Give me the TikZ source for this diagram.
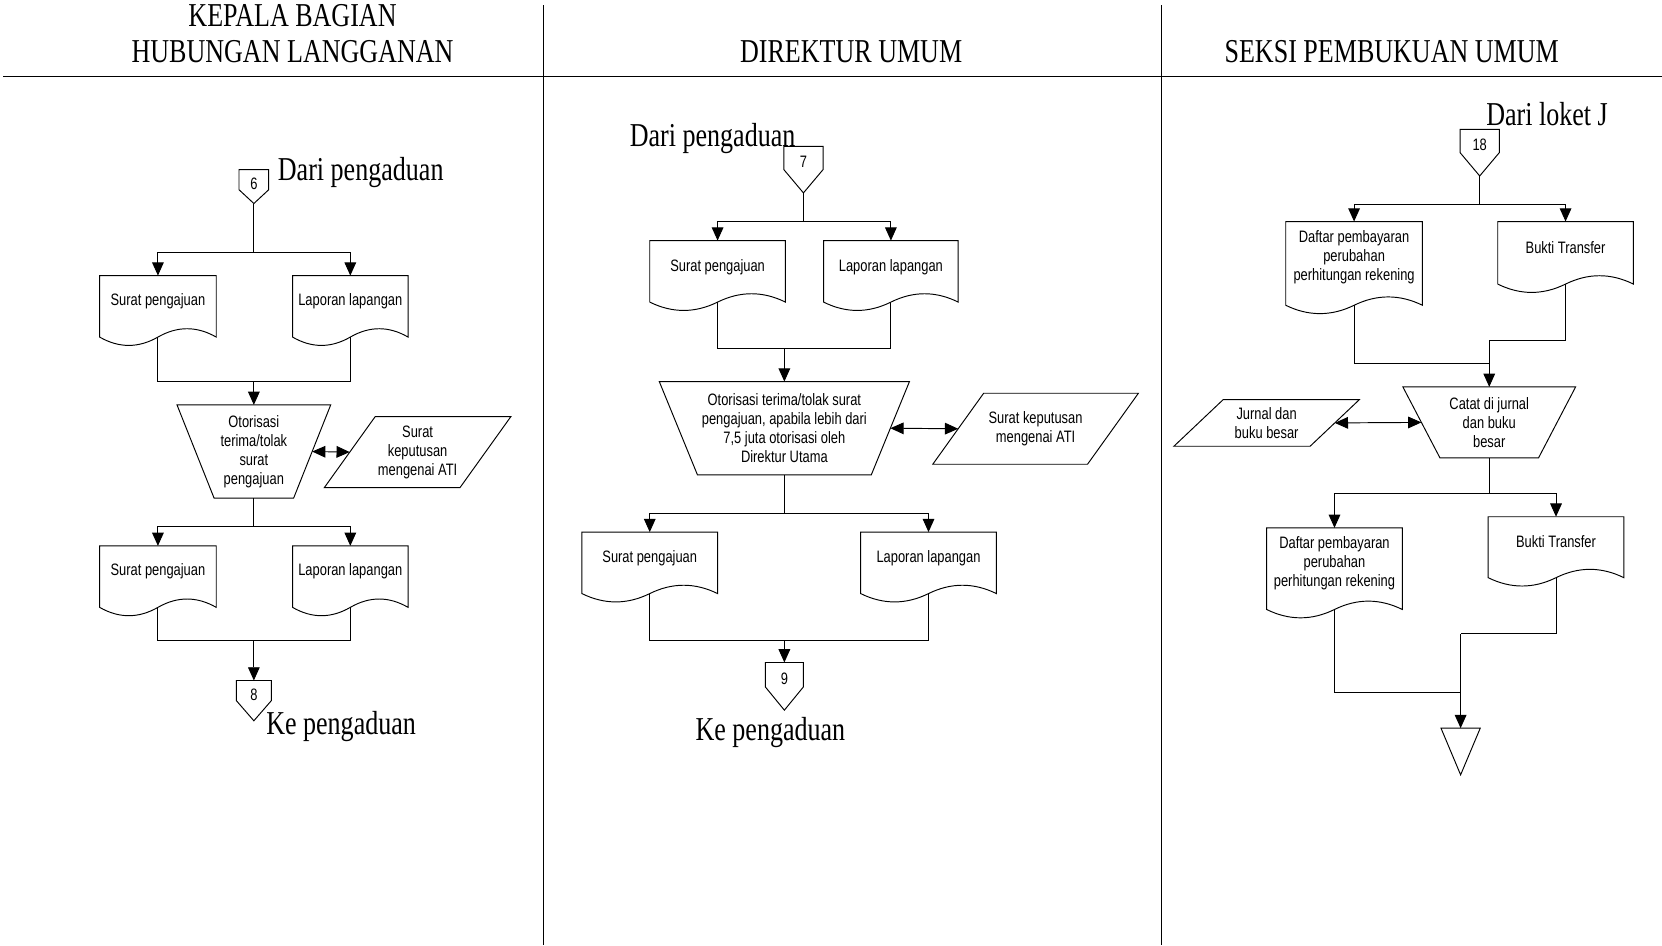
\documentclass[tikz,border=0pt]{standalone}
\usepackage{fontspec}
\usetikzlibrary{arrows.meta,calc}
\newfontfamily\serifnarrow[FakeStretch=0.78]{Liberation Serif}
\newfontfamily\sansnarrow[FakeStretch=0.78]{Liberation Sans}

\tikzset{
  ln/.style={line width=0.9pt, line join=miter},
  tip/.style={Triangle[length=12.5pt,width=11pt]},
  arr/.style={ln, -{Triangle[length=12.5pt,width=11pt]}},
  darr/.style={ln, {Triangle[length=12.5pt,width=11pt]}-{Triangle[length=12.5pt,width=11pt]}},
  shapebox/.style={draw=none, inner sep=0pt, outer sep=0pt},
  txt/.style={font=\sansnarrow\fontsize{15.6}{18}\selectfont, align=center, inner sep=0pt},
  headtext/.style={font=\serifnarrow\fontsize{31.5}{34}\selectfont, align=center, inner sep=0pt},
  flowlabel/.style={font=\serifnarrow\fontsize{31.5}{34}\selectfont, inner sep=0pt, anchor=west},
  lane/.style={line width=1pt},
}

\newcommand{\wavedepth}{10.5}

% document symbol: name, centre x, top y, width, side height, text y, text
\newcommand{\DocShape}[7]{%
  \node[shapebox, minimum width=#4, minimum height=#5, anchor=north] (#1) at (#2,#3) {};
  \draw[ln] (#1.south west) -- (#1.north west) -- (#1.north east) -- (#1.south east)
    .. controls +({-#4/6},-\wavedepth) and +({#4/6},-\wavedepth) .. (#1.south)
    .. controls +({-#4/6},\wavedepth) and +({#4/6},\wavedepth) .. (#1.south west) -- cycle;
  \node[txt] (#1-t) at (#2,#6) {#7};
}

% manual operation: name, centre x, top y, top width, bottom width, height, text
\newcommand{\ManOp}[7]{%
  \node[shapebox, txt, minimum width=#4, minimum height=#6, anchor=north] (#1) at (#2,#3) {#7};
  \draw[ln] (#1.north west) -- (#1.north east) -- ([xshift={-(#4-#5)/2}]#1.south east)
    -- ([xshift={(#4-#5)/2}]#1.south west) -- cycle;
  \coordinate (#1-r) at ($(#1.north east)!0.5!([xshift={-(#4-#5)/2}]#1.south east)$);
  \coordinate (#1-l) at ($(#1.north west)!0.5!([xshift={(#4-#5)/2}]#1.south west)$);
}

% input/output: name, centre x, centre y, edge width, height, slant, text
\newcommand{\InOut}[7]{%
  \node[shapebox, txt, minimum width=#4, minimum height=#5] (#1) at (#2,#3) {#7};
  \draw[ln] ([xshift={#6/2}]#1.north west) -- ([xshift={#6/2}]#1.north east)
    -- ([xshift={-#6/2}]#1.south east) -- ([xshift={-#6/2}]#1.south west) -- cycle;
}

% off-page connector: name, centre x, top y, width, box height, point depth, number
\newcommand{\OffPage}[7]{%
  \node[shapebox, minimum width=#4, minimum height=#5, anchor=north] (#1) at (#2,#3) {};
  \node[txt] (#1-n) at ([yshift=-4]#1.center) {#7};
  \coordinate (#1-tip) at ([yshift=-#6]#1.south);
  \draw[ln] (#1.south west) -- (#1.north west) -- (#1.north east) -- (#1.south east)
    -- (#1-tip) -- cycle;
}

\begin{document}
\begin{tikzpicture}[x=1pt,y=-1pt]
\useasboundingbox (0,0) rectangle (1568,892);

% lanes
\coordinate (hl) at (3,72);
\coordinate (hr) at (1568,72);
\coordinate (v1t) at (513,5);
\coordinate (v1b) at (513,892);
\coordinate (v2t) at (1096,5);
\coordinate (v2b) at (1096,892);
\draw[lane] (hl) -- (hr);
\draw[lane] (v1t) -- (v1b);
\draw[lane] (v2t) -- (v2b);

\node[headtext] (h1) at (276,32) {KEPALA BAGIAN\\HUBUNGAN LANGGANAN};
\node[headtext] (h2) at (803,49) {DIREKTUR UMUM};
\node[headtext] (h3) at (1313,49) {SEKSI PEMBUKUAN UMUM};

% ---- Kepala Bagian Hubungan Langganan ----
\OffPage{c6}{239.5}{160}{28}{19}{13}{6}
\node[flowlabel] (l6) at (262,163) {Dari pengaduan};
\coordinate (j1) at (239.5,238);
\DocShape{d1}{149}{260}{110}{58}{284}{Surat pengajuan}
\DocShape{d2}{330.5}{260}{109}{58}{284}{Laporan lapangan}
\coordinate (m1) at (239.5,360);
\ManOp{t1}{239.5}{382}{145}{75}{88}{Otorisasi\\terima/tolak\\surat\\pengajuan}
\InOut{p1}{394}{426.5}{128}{67}{48}{Surat\\keputusan\\mengenai ATI}
\coordinate (j2) at (239.5,497);
\DocShape{d3}{149}{515}{110}{58}{539}{Surat pengajuan}
\DocShape{d4}{330.5}{515}{109}{58}{539}{Laporan lapangan}
\coordinate (m2) at (239.5,604);
\OffPage{c8}{239.5}{642}{33}{19}{19}{8}
\node[flowlabel] (l8) at (251,685) {Ke pengaduan};

\draw[ln] (c6-tip) -- (j1);
\draw[arr] (j1) -| (d1.north);
\draw[arr] (j1) -| (d2.north);
\draw[ln] (d1.south) |- (m1);
\draw[ln] (d2.south) |- (m1);
\draw[arr] (m1) -- (t1.north);
\draw[darr] (t1-r) -- (p1.west);
\draw[ln] (t1.south) -- (j2);
\draw[arr] (j2) -| (d3.north);
\draw[arr] (j2) -| (d4.north);
\draw[ln] (d3.south) |- (m2);
\draw[ln] (d4.south) |- (m2);
\draw[arr] (m2) -- (c8.north);

% ---- Direktur Umum ----
\node[flowlabel] (l7) at (594,131) {Dari pengaduan};
\OffPage{c7}{758}{138}{37}{22}{22}{7}
\coordinate (j3) at (758,209);
\DocShape{d5}{677}{227}{128}{58}{252}{Surat pengajuan}
\DocShape{d6}{840.5}{227}{127}{58}{252}{Laporan lapangan}
\coordinate (m3) at (740,329);
\ManOp{t2}{740}{360}{236}{164}{88}{Otorisasi terima/tolak surat\\pengajuan, apabila lebih dari\\7,5 juta otorisasi oleh\\Direktur Utama}
\InOut{p2}{977}{404.5}{146}{67}{48}{Surat keputusan\\mengenai ATI}
\coordinate (j4) at (740,484);
\DocShape{d7}{613}{502}{128}{58}{527}{Surat pengajuan}
\DocShape{d8}{876}{502}{128}{58}{527}{Laporan lapangan}
\coordinate (m4) at (740,604);
\OffPage{c9}{740}{625}{36}{23}{22}{9}
\node[flowlabel] (l9) at (656,691) {Ke pengaduan};

\draw[ln] (c7-tip) -- (j3);
\draw[arr] (j3) -| (d5.north);
\draw[arr] (j3) -| (d6.north);
\draw[ln] (d5.south) |- (m3);
\draw[ln] (d6.south) |- (m3);
\draw[arr] (m3) -- (t2.north);
\draw[darr] (t2-r) -- (p2.west);
\draw[ln] (t2.south) -- (j4);
\draw[arr] (j4) -| (d7.north);
\draw[arr] (j4) -| (d8.north);
\draw[ln] (d7.south) |- (m4);
\draw[ln] (d8.south) |- (m4);
\draw[arr] (m4) -- (c9.north);

% ---- Seksi Pembukuan Umum ----
\node[flowlabel] (lJ) at (1402,108) {Dari loket J};
\OffPage{c18}{1396}{122}{37}{22}{22}{18}
\coordinate (j5) at (1396,193);
\DocShape{d9}{1277.5}{209}{129}{79}{243}{Daftar pembayaran\\perubahan\\perhitungan rekening}
\DocShape{d10}{1477}{209}{128}{59}{234}{Bukti Transfer}
\coordinate (m5) at (1405,343);
\coordinate (b5) at (1405,321);
\ManOp{t3}{1405}{365}{163}{93}{67}{Catat di jurnal\\dan buku\\besar}
\InOut{p3}{1195}{399}{128.5}{44}{46.5}{Jurnal dan\\buku besar}
\coordinate (j6) at (1405,466);
\DocShape{d11}{1259}{498}{128}{77}{531}{Daftar pembayaran\\perubahan\\perhitungan rekening}
\DocShape{d12}{1468}{487.5}{128}{57.5}{511}{Bukti Transfer}
\coordinate (b6) at (1378,598);
\coordinate (m6) at (1378,653);
\node[shapebox, minimum width=37, minimum height=44, anchor=north] (sto) at (1378,687) {};
\draw[ln] (sto.north west) -- (sto.north east) -- (sto.south) -- cycle;

\draw[ln] (c18-tip) -- (j5);
\draw[arr] (j5) -| (d9.north);
\draw[arr] (j5) -| (d10.north);
\draw[ln] (d9.south) |- (m5);
\draw[ln] (d10.south) |- (b5);
\draw[arr] (b5) -- (t3.north);
\draw[darr] (p3.east) -- (t3-l);
\draw[ln] (t3.south) -- (j6);
\draw[arr] (j6) -| (d11.north);
\draw[arr] (j6) -| (d12.north);
\draw[ln] (d11.south) |- (m6);
\draw[ln] (d12.south) |- (b6);
\draw[arr] (b6) -- (sto.north);

\end{tikzpicture}
\end{document}
